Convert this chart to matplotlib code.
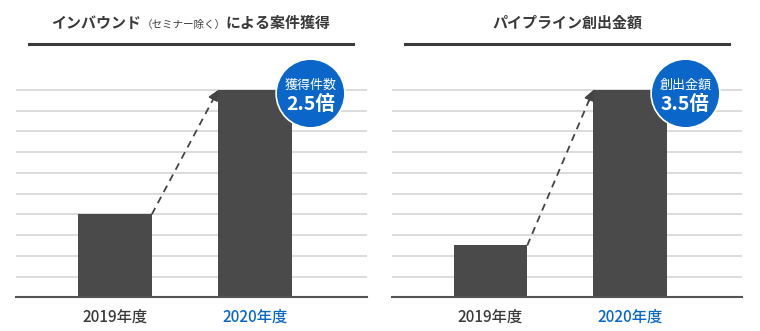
import matplotlib
matplotlib.use("Agg")
import matplotlib.pyplot as plt
from matplotlib.lines import Line2D
from matplotlib.offsetbox import TextArea, HPacker, AnnotationBbox

plt.rcParams['font.family'] = ['Noto Sans CJK JP', 'DejaVu Sans']

# --- data ---
years = ['2019年度', '2020年度']
inbound_deals = [4, 10]
pipeline_amount = [2.5, 10]
badge_titles = ['獲得件数', '創出金額']
badge_values = ['2.5倍', '3.5倍']

BAR = '#4a4a4a'
BLUE = '#0b66c9'
TEXT = '#3a3a3a'
GRID = '#d9d9d9'

W, H = 760, 331
fig = plt.figure(figsize=(W / 100, H / 100), dpi=100)


def px_box(x0, x1, y_top, y_bot):
    return [x0 / W, 1 - y_bot / H, (x1 - x0) / W, (y_bot - y_top) / H]


def panel(rect, values, badge_title, badge_value):
    ax = fig.add_axes(rect)
    xs = [0, 1]
    bw = 0.526
    ax.bar(xs, values, width=bw, color=BAR, zorder=2)
    ax.set_xlim(-0.707, 1.8)
    ax.set_ylim(0, 10.03)
    ax.set_yticks(range(1, 11))
    ax.yaxis.grid(True, color=GRID, lw=1.3)
    ax.set_axisbelow(True)
    ax.tick_params(axis='y', left=False, labelleft=False)
    ax.tick_params(axis='x', length=0, pad=8, labelsize=11)
    ax.set_xticks(xs)
    ax.set_xticklabels(years)
    lbls = ax.get_xticklabels()
    lbls[0].set_color(TEXT)
    lbls[1].set_color(BLUE)
    for lb in lbls:
        lb.set_fontweight('medium')
    for s in ['top', 'left', 'right']:
        ax.spines[s].set_visible(False)
    ax.spines['bottom'].set_color('#555555')
    ax.spines['bottom'].set_linewidth(1.5)

    # dashed growth arrow from last year's bar to this year's bar
    x0, y0 = xs[0] + bw / 2, values[0]
    x1, y1 = xs[1] - bw / 2, values[1]
    ax.plot([x0, x1 - (x1 - x0) * 0.04], [y0, y1 - (y1 - y0) * 0.04],
            ls=(0, (4, 3)), color='#444444', lw=1.3, zorder=3)
    ax.annotate('', xy=(x1, y1), xytext=(x1 - (x1 - x0) * 0.08, y1 - (y1 - y0) * 0.08),
                arrowprops=dict(arrowstyle='-|>', color='#444444', lw=1.0,
                                mutation_scale=16, shrinkA=0, shrinkB=0),
                zorder=3, annotation_clip=False)

    # badge circle
    cx, cy = 1.395, 9.87
    ax.scatter([cx], [cy], s=2450, color=BLUE, edgecolor='white', linewidth=1.2,
               zorder=5, clip_on=False)
    ax.annotate(badge_title, (cx, cy), xytext=(0, 5.5), textcoords='offset points',
                ha='center', va='center', color='white', fontsize=9.4, zorder=6,
                annotation_clip=False)
    ax.annotate(badge_value, (cx, cy), xytext=(0, -8.5), textcoords='offset points',
                ha='center', va='center', color='white', fontsize=14,
                fontweight='bold', zorder=6, annotation_clip=False)
    return ax


ax1 = panel(px_box(16, 367, 89.3, 297.3), inbound_deals, badge_titles[0], badge_values[0])
ax2 = panel(px_box(391.7, 742, 89.3, 297.3), pipeline_amount, badge_titles[1], badge_values[1])

# panel headings with rule underneath
title_kw = dict(color=TEXT, fontweight='bold', fontsize=10.8)
parts = [
    TextArea('インバウンド', textprops=title_kw),
    TextArea('（セミナー除く）', textprops=dict(color=TEXT, fontsize=7.6)),
    TextArea('による案件獲得', textprops=title_kw),
]
box = HPacker(children=parts, align='baseline', pad=0, sep=0)
fig.add_artist(AnnotationBbox(box, (191 / W, 1 - 23 / H), xycoords='figure fraction',
                              frameon=False, box_alignment=(0.5, 0.5)))
fig.text(567 / W, 1 - 23 / H, 'パイプライン創出金額', ha='center', va='center', **title_kw)

for xa, xb in [(29, 353), (405, 729)]:
    fig.add_artist(Line2D([xa / W, xb / W], [1 - 43.7 / H] * 2, color='#3c3c3c', lw=2.2))

fig.savefig('out.png', dpi=100, facecolor='white')
